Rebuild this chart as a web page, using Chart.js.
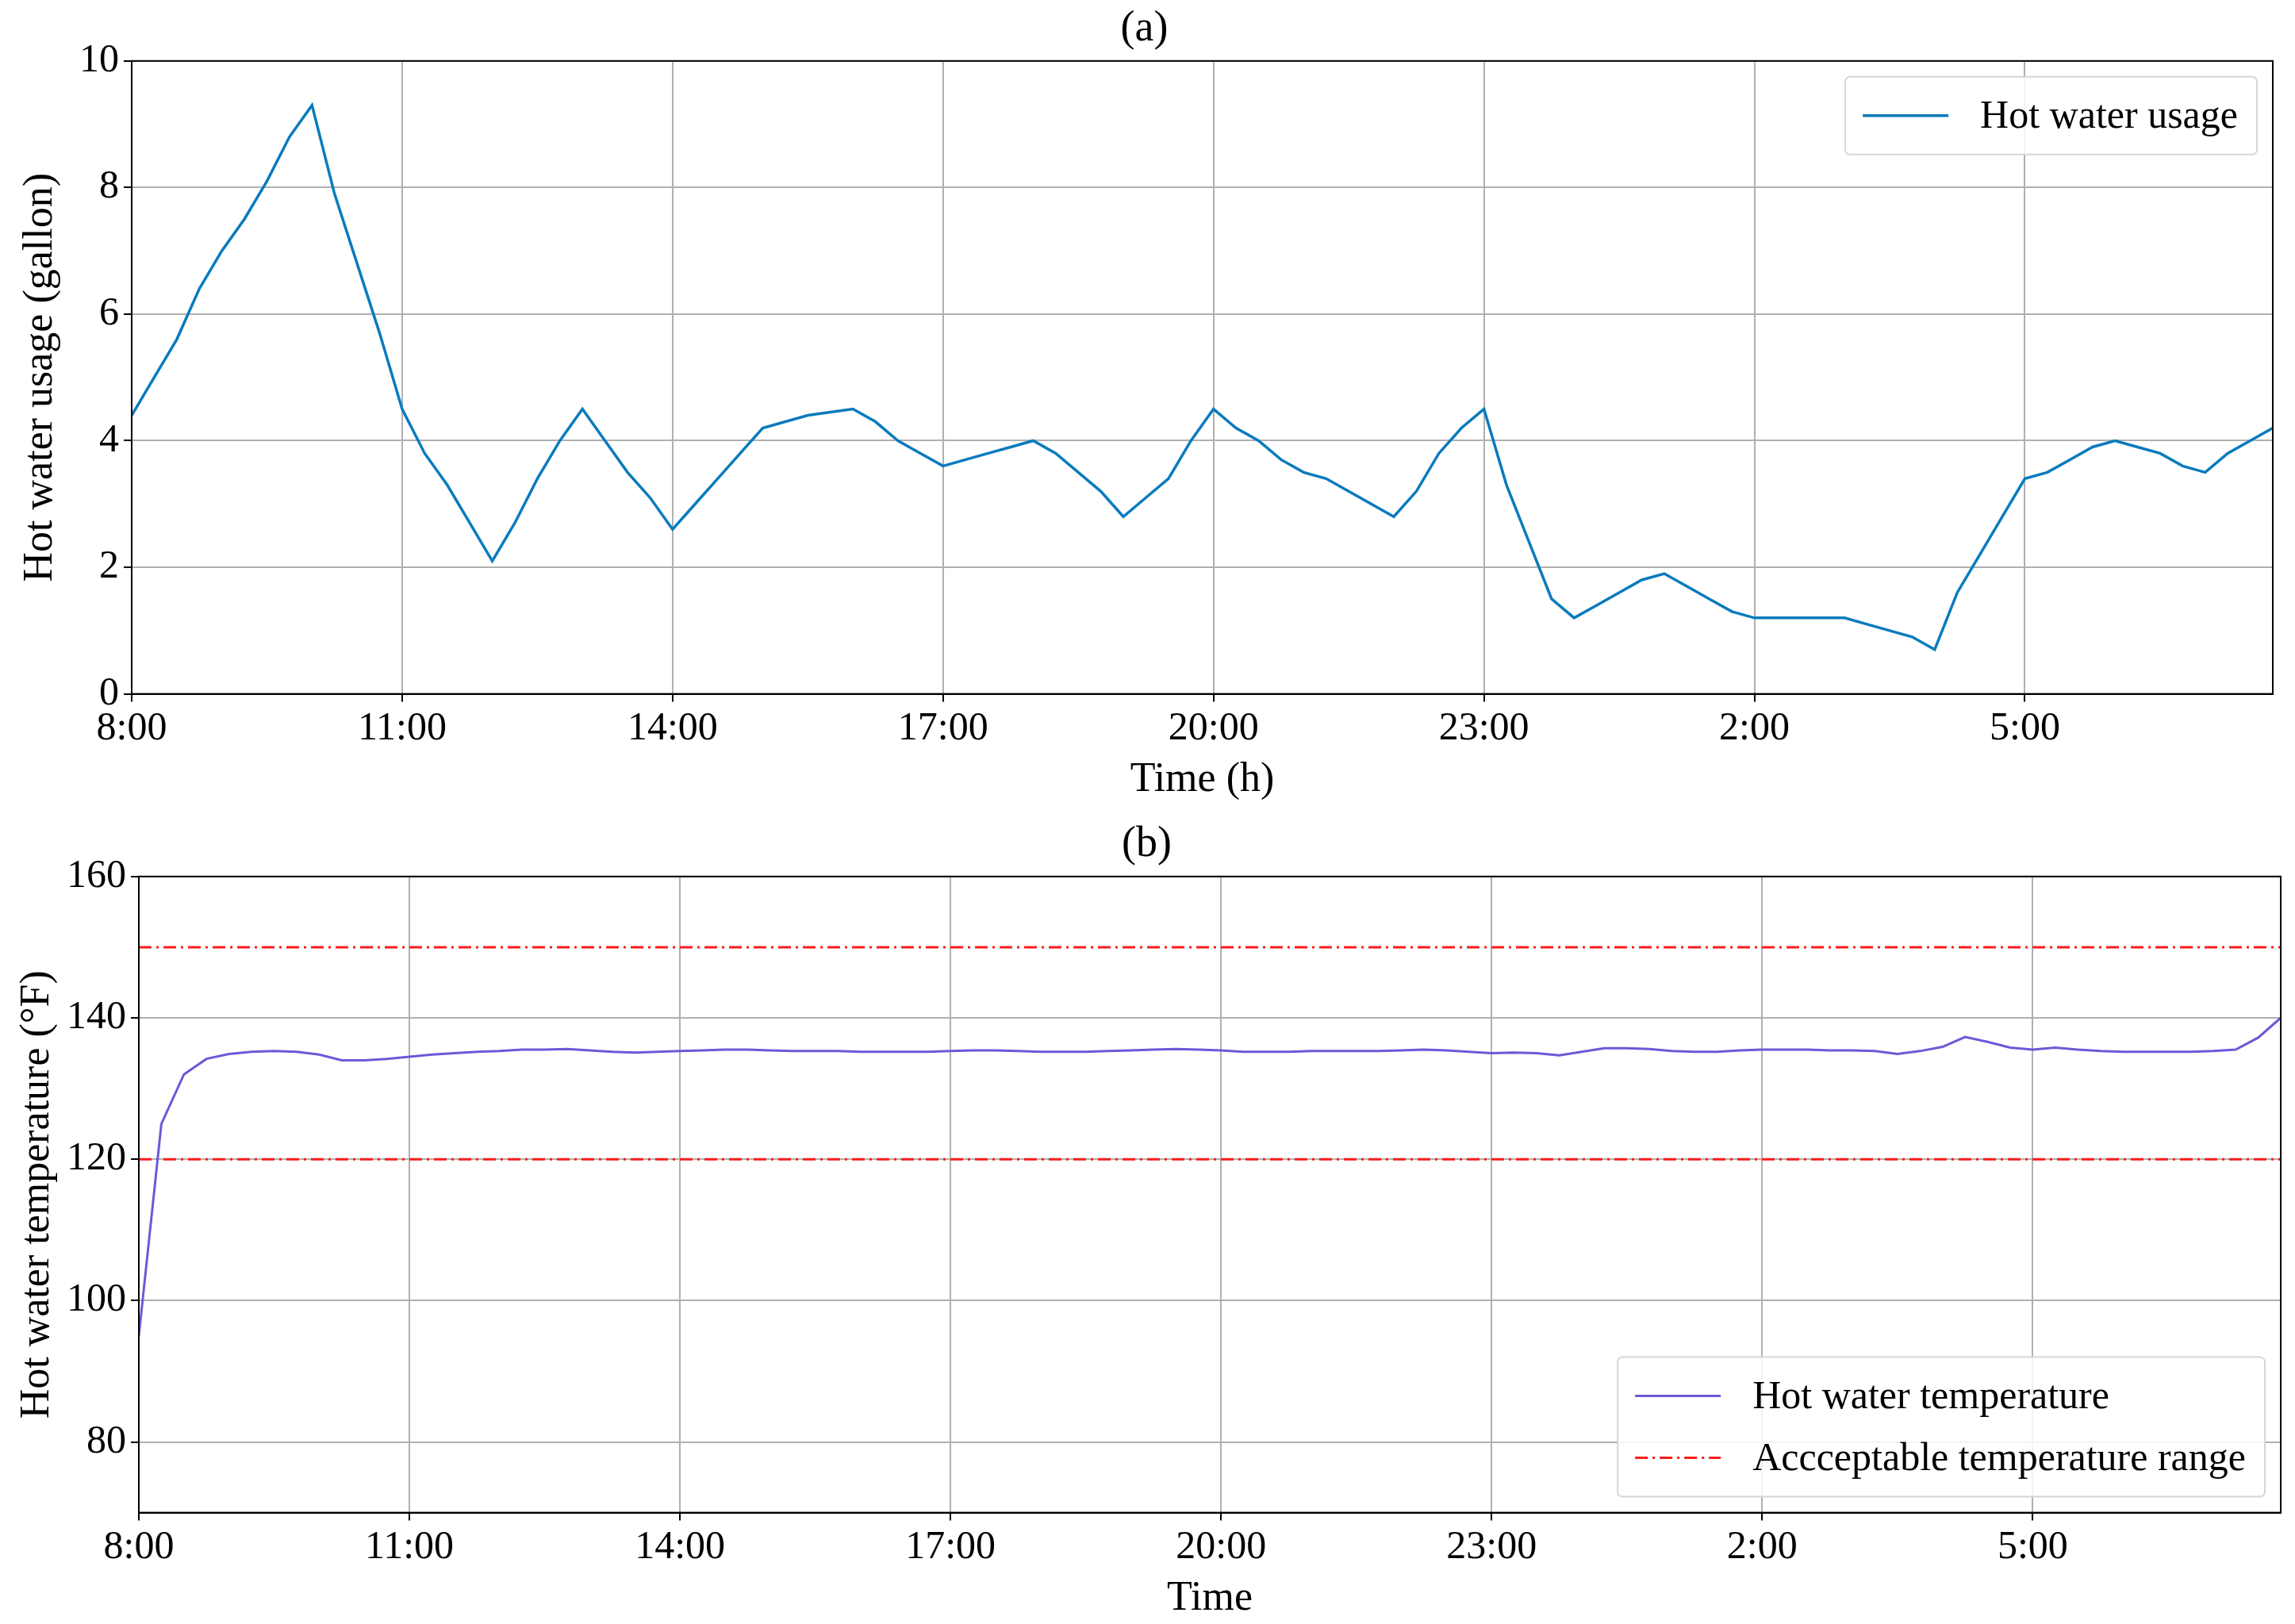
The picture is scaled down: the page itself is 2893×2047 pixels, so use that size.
<!DOCTYPE html>
<html>
<head>
<meta charset="utf-8">
<script src="https://cdn.jsdelivr.net/npm/chart.js@4"></script>
<style>
  body { margin: 0; background: #fff; }
  .box { position: absolute; left: 0; width: 2893px; }
</style>
</head>
<body>
<div class="box" style="top:0;height:1015px"><canvas id="usage"></canvas></div>
<div class="box" style="top:1020px;height:1027px"><canvas id="temp"></canvas></div>
<script>
// hours after 8:00, one reading every 15 min
const hours = [];
for (let i = 0; i < 96; i++) hours.push(i / 4);

const tickHours = [0, 3, 6, 9, 12, 15, 18, 21];

const usage = [
  4.4, 5.0, 5.6, 6.4, 7.0, 7.5, 8.1, 8.8, 9.3, 7.9, 6.8, 5.7,
  4.5, 3.8, 3.3, 2.7, 2.1, 2.7, 3.4, 4.0, 4.5, 4.0, 3.5, 3.1,
  2.6, 3.0, 3.4, 3.8, 4.2, 4.3, 4.4, 4.45, 4.5, 4.3, 4.0, 3.8,
  3.6, 3.7, 3.8, 3.9, 4.0, 3.8, 3.5, 3.2, 2.8, 3.1, 3.4, 4.0,
  4.5, 4.2, 4.0, 3.7, 3.5, 3.4, 3.2, 3.0, 2.8, 3.2, 3.8, 4.2,
  4.5, 3.3, 2.4, 1.5, 1.2, 1.4, 1.6, 1.8, 1.9, 1.7, 1.5, 1.3,
  1.2, 1.2, 1.2, 1.2, 1.2, 1.1, 1.0, 0.9, 0.7, 1.6, 2.2, 2.8,
  3.4, 3.5, 3.7, 3.9, 4.0, 3.9, 3.8, 3.6, 3.5, 3.8, 4.0, 4.2
];

const temperature = [
  95, 125, 132, 134.2, 134.9, 135.2, 135.3, 135.2, 134.8, 134.0, 134.0, 134.2,
  134.5, 134.8, 135.0, 135.2, 135.3, 135.5, 135.5, 135.6, 135.4, 135.2, 135.1, 135.2,
  135.3, 135.4, 135.5, 135.5, 135.4, 135.3, 135.3, 135.3, 135.2, 135.2, 135.2, 135.2,
  135.3, 135.4, 135.4, 135.3, 135.2, 135.2, 135.2, 135.3, 135.4, 135.5, 135.6, 135.5,
  135.4, 135.2, 135.2, 135.2, 135.3, 135.3, 135.3, 135.3, 135.4, 135.5, 135.4, 135.2,
  135.0, 135.1, 135.0, 134.7, 135.2, 135.7, 135.7, 135.6, 135.3, 135.2, 135.2, 135.4,
  135.5, 135.5, 135.5, 135.4, 135.4, 135.3, 134.9, 135.3, 135.9, 137.3, 136.6, 135.8,
  135.5, 135.8, 135.5, 135.3, 135.2, 135.2, 135.2, 135.2, 135.3, 135.5, 136.1, 137.0,
  137.2, 140.0
].slice(0, 94).concat([137.2, 140.0]);

const rangeEnds = [0, 23.75];
const rangeLow = [120, 120];
const rangeHigh = [150, 150];

const FONT = "'Liberation Serif', 'DejaVu Serif', serif";
const pts = (xs, ys) => xs.map((x, i) => ({ x: x, y: ys[i] }));
const hourLabel = v => ((8 + v) % 24) + ':00';

// legend drawn inside the plot, matplotlib style
function boxLegend(corner) {
  return {
    id: 'boxLegend',
    afterDraw(chart) {
      const ctx = chart.ctx, a = chart.chartArea;
      const items = [];
      chart.data.datasets.forEach(d => { if (d.legendText) items.push(d); });
      ctx.save();
      ctx.font = '50px ' + FONT;
      let tw = 0;
      items.forEach(d => tw = Math.max(tw, ctx.measureText(d.legendText).width));
      const rowH = 78, w = 130 + 40 + tw + 24, h = items.length * rowH + 20;
      const x = a.right - w - 20;
      const y = corner === 'top' ? a.top + 20 : a.bottom - h - 20;
      ctx.fillStyle = 'rgba(255,255,255,0.85)';
      ctx.strokeStyle = '#d6d6d6';
      ctx.lineWidth = 2;
      ctx.beginPath();
      ctx.roundRect(x, y, w, h, 6);
      ctx.fill();
      ctx.stroke();
      items.forEach((d, i) => {
        const cy = y + 10 + rowH * i + rowH / 2;
        ctx.strokeStyle = d.borderColor;
        ctx.lineWidth = d.borderWidth;
        ctx.setLineDash(d.borderDash || []);
        ctx.beginPath();
        ctx.moveTo(x + 22, cy);
        ctx.lineTo(x + 130, cy);
        ctx.stroke();
        ctx.setLineDash([]);
        ctx.fillStyle = '#000';
        ctx.textBaseline = 'middle';
        ctx.fillText(d.legendText, x + 170, cy + 2);
      });
      ctx.restore();
    }
  };
}

function axes(yMin, yMax, yStep, yTitle, xTitle, leftPad) {
  return {
    x: {
      type: 'linear', min: 0, max: 23.75,
      afterBuildTicks: s => { s.ticks = tickHours.map(v => ({ value: v })); },
      ticks: { callback: hourLabel, color: '#000', font: { family: FONT, size: 50 }, padding: 4 },
      grid: { color: '#b0b0b0', lineWidth: 2, tickLength: 10, tickColor: '#000' },
      border: { color: '#000', width: 2 },
      title: { display: true, text: xTitle, color: '#000', font: { family: FONT, size: 52 }, padding: 0 }
    },
    y: {
      min: yMin, max: yMax,
      afterBuildTicks: s => { s.ticks = s.ticks.filter(t => t.value % yStep === 0 && t.value >= yMin + (yMin % yStep ? yStep - yMin % yStep : 0)); },
      ticks: { stepSize: yStep, color: '#000', font: { family: FONT, size: 50 }, padding: 6 },
      grid: { color: '#b0b0b0', lineWidth: 2, tickLength: 10, tickColor: '#000' },
      border: { color: '#000', width: 2 },
      afterFit: s => { s.width = leftPad; },
      title: { display: true, text: yTitle, color: '#000', font: { family: FONT, size: 52 }, padding: 0 }
    }
  };
}

function frame() {
  return {
    id: 'frame',
    afterDraw(chart) {
      const a = chart.chartArea, ctx = chart.ctx;
      ctx.save();
      ctx.strokeStyle = '#000';
      ctx.lineWidth = 2;
      ctx.strokeRect(a.left, a.top, a.right - a.left, a.bottom - a.top);
      ctx.restore();
    }
  };
}

new Chart(document.getElementById('usage'), {
  type: 'line',
  data: {
    datasets: [{
      data: pts(hours, usage), legendText: 'Hot water usage',
      borderColor: '#0a7bbd', borderWidth: 3.5, pointRadius: 0, tension: 0
    }]
  },
  options: {
    responsive: true, maintainAspectRatio: false, animation: false,
    layout: { padding: { left: 20, right: 28, bottom: 0 } },
    plugins: {
      legend: { display: false }, tooltip: { enabled: false },
      title: { display: true, text: '(a)', color: '#000', font: { family: FONT, size: 54, weight: 'normal' }, padding: { top: 4, bottom: 8 } }
    },
    scales: axes(0, 10, 2, 'Hot water usage (gallon)', 'Time (h)', 146)
  },
  plugins: [frame(), boxLegend('top')]
});

new Chart(document.getElementById('temp'), {
  type: 'line',
  data: {
    datasets: [
      { data: pts(hours, temperature), legendText: 'Hot water temperature',
        borderColor: '#6a5ad8', borderWidth: 3, pointRadius: 0, tension: 0 },
      { data: pts(rangeEnds, rangeHigh), legendText: 'Accceptable temperature range',
        borderColor: '#ff1a1a', borderWidth: 3, borderDash: [16, 6, 3, 6], pointRadius: 0 },
      { data: pts(rangeEnds, rangeLow),
        borderColor: '#ff1a1a', borderWidth: 3, borderDash: [16, 6, 3, 6], pointRadius: 0 }
    ]
  },
  options: {
    responsive: true, maintainAspectRatio: false, animation: false,
    layout: { padding: { left: 16, right: 18, bottom: 0 } },
    plugins: {
      legend: { display: false }, tooltip: { enabled: false },
      title: { display: true, text: '(b)', color: '#000', font: { family: FONT, size: 54, weight: 'normal' }, padding: { top: 12, bottom: 8 } }
    },
    scales: axes(70, 160, 20, 'Hot water temperature (°F)', 'Time', 159)
  },
  plugins: [frame(), boxLegend('bottom')]
});
</script>
</body>
</html>
